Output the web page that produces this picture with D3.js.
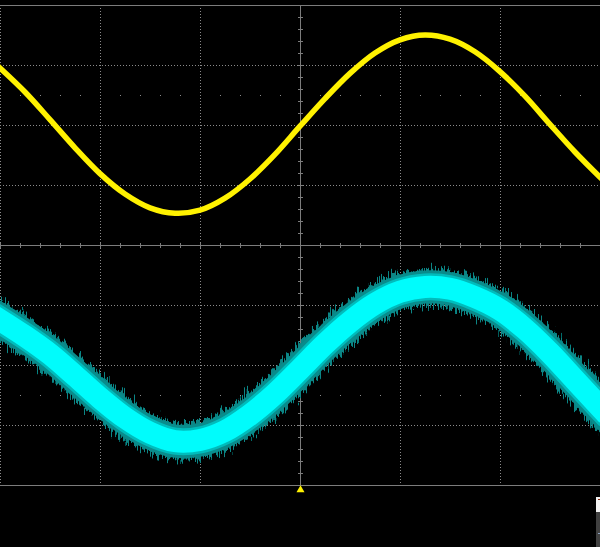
<!DOCTYPE html>
<html>
<head>
<meta charset="utf-8">
<script src="https://cdn.jsdelivr.net/npm/d3@7"></script>
<style>
  body { margin: 0; background: #000; overflow: hidden; }
  svg { display: block; }
</style>
</head>
<body>
<div id="scope"></div>
<script>
// screen size
let width = 600,
  height = 547;

// time, in horizontal divisions from the trigger point (screen centre)
let timeDiv = [-3, -2.75, -2.5, -2.25, -2, -1.75, -1.5, -1.25, -1, -0.75, -0.5, -0.25, 0,
  0.25, 0.5, 0.75, 1, 1.25, 1.5, 1.75, 2, 2.25, 2.5, 2.75, 3];

// channel 1 (yellow), vertical divisions
let ch1 = [2.95, 2.55, 2.09, 1.62, 1.19, 0.85, 0.62, 0.53, 0.58, 0.78, 1.10, 1.51, 1.98,
  2.44, 2.86, 3.20, 3.42, 3.50, 3.43, 3.22, 2.89, 2.48, 2.01, 1.55, 1.13];

// channel 2 (cyan, noisy), vertical divisions
let ch2 = [-1.25, -1.52, -1.82, -2.18, -2.55, -2.88, -3.13, -3.27, -3.25, -3.10, -2.83, -2.48, -2.07,
  -1.65, -1.28, -0.98, -0.78, -0.70, -0.73, -0.87, -1.08, -1.40, -1.80, -2.25, -2.70];

// graticule: 6 horizontal divisions visible, 8 vertical
let xDivs = [-3, -2, -1, 0, 1, 2, 3];
let yDivs = [-4, -3, -2, -1, 0, 1, 2, 3, 4];

let svg = d3
  .select("#scope")
  .append("svg")
  .attr("width", width)
  .attr("height", height);

let x = d3.scaleLinear().domain([-3, 3]).range([0, 600]);
let y = d3.scaleLinear().domain([-4, 4]).range([485, 5]);

let defs = svg.append("defs");

// clip traces to the graticule
defs.append("clipPath")
  .attr("id", "screen")
  .append("rect")
  .attr("x", 0)
  .attr("y", y(4))
  .attr("width", width)
  .attr("height", y(-4) - y(4));

// noise texture for the cyan trace edge
let f = defs
  .append("filter")
  .attr("id", "jitter")
  .attr("filterUnits", "userSpaceOnUse")
  .attr("x", 0)
  .attr("y", 0)
  .attr("width", width)
  .attr("height", height);
f.append("feTurbulence")
  .attr("type", "fractalNoise")
  .attr("baseFrequency", "0.7 0.06")
  .attr("numOctaves", 2)
  .attr("seed", 4)
  .attr("result", "n");
f.append("feColorMatrix")
  .attr("in", "n")
  .attr("type", "matrix")
  .attr("values", "0 0 0 0 0.5  0 1 0 0 0  0 0 0 0 0  0 0 0 0 1")
  .attr("result", "m");
f.append("feDisplacementMap")
  .attr("in", "SourceGraphic")
  .attr("in2", "m")
  .attr("scale", 26)
  .attr("xChannelSelector", "R")
  .attr("yChannelSelector", "G");

let grid = svg.append("g").attr("shape-rendering", "crispEdges");

// dotted vertical grid lines
grid
  .selectAll(".vgrid")
  .data(xDivs.filter(d => d !== 0))
  .enter()
  .append("line")
  .attr("x1", d => x(d) + 0.5)
  .attr("x2", d => x(d) + 0.5)
  .attr("y1", y(4))
  .attr("y2", y(-4))
  .attr("stroke", "#8a8a8a")
  .attr("stroke-dasharray", "1,2");

// dotted horizontal grid lines
grid
  .selectAll(".hgrid")
  .data(yDivs.filter(d => d !== 0 && Math.abs(d) !== 4))
  .enter()
  .append("line")
  .attr("x1", 0)
  .attr("x2", width)
  .attr("y1", d => y(d) + 0.5)
  .attr("y2", d => y(d) + 0.5)
  .attr("stroke", "#8a8a8a")
  .attr("stroke-dasharray", "1,2");

// solid top and bottom borders
grid
  .selectAll(".border")
  .data([4, -4])
  .enter()
  .append("line")
  .attr("x1", 0)
  .attr("x2", width)
  .attr("y1", d => y(d) + 0.5)
  .attr("y2", d => y(d) + 0.5)
  .attr("stroke", "#7c7c7c");

// rows of minor dots at +/- 2.5 divisions
let minorX = x.ticks(30).filter(d => Math.abs(d - Math.round(d)) > 0.01);
[2.5, -2.5].forEach(function (row) {
  grid
    .selectAll(null)
    .data(minorX)
    .enter()
    .append("rect")
    .attr("x", d => x(d))
    .attr("y", y(row))
    .attr("width", 1)
    .attr("height", 1)
    .attr("fill", "#8a8a8a");
});

// centre crosshair with minor ticks
grid.append("line")
  .attr("x1", 0).attr("x2", width)
  .attr("y1", y(0) + 0.5).attr("y2", y(0) + 0.5)
  .attr("stroke", "#7c7c7c");
grid.append("line")
  .attr("x1", x(0) + 0.5).attr("x2", x(0) + 0.5)
  .attr("y1", y(4)).attr("y2", y(-4))
  .attr("stroke", "#7c7c7c");

grid
  .selectAll(".xtick")
  .data(x.ticks(30))
  .enter()
  .append("line")
  .attr("x1", d => x(d) + 0.5)
  .attr("x2", d => x(d) + 0.5)
  .attr("y1", y(0) - 2)
  .attr("y2", y(0) + 3)
  .attr("stroke", "#7c7c7c");

grid
  .selectAll(".ytick")
  .data(y.ticks(40))
  .enter()
  .append("line")
  .attr("x1", x(0) - 2)
  .attr("x2", x(0) + 3)
  .attr("y1", d => y(d) + 0.5)
  .attr("y2", d => y(d) + 0.5)
  .attr("stroke", "#7c7c7c");

// traces
let line = d3
  .line()
  .x((d, i) => x(timeDiv[i]))
  .y(d => y(d))
  .curve(d3.curveCatmullRom.alpha(0.5));

let traces = svg
  .append("g")
  .attr("clip-path", "url(#screen)")
  .attr("fill", "none")
  .attr("stroke-linecap", "square");

// channel 2: noisy outer fringe, body, then bright core
traces.append("path")
  .attr("d", line(ch2))
  .attr("stroke", "#078585")
  .attr("stroke-width", 36)
  .attr("filter", "url(#jitter)");
traces.append("path")
  .attr("d", line(ch2))
  .attr("stroke", "#098c8c")
  .attr("stroke-width", 33);
traces.append("path")
  .attr("d", line(ch2))
  .attr("stroke", "#00bcbc")
  .attr("stroke-width", 27);
traces.append("path")
  .attr("d", line(ch2))
  .attr("stroke", "#00fcfc")
  .attr("stroke-width", 22);

// channel 1
traces.append("path")
  .attr("d", line(ch1))
  .attr("stroke", "#fff200")
  .attr("stroke-width", 5.5);

// trigger position marker
svg.append("path")
  .attr("d", d3.symbol().type(d3.symbolTriangle).size(28))
  .attr("transform", "translate(" + (x(0) + 0.5) + "," + (y(-4) + 5) + ")")
  .attr("fill", "#fff200");

// edge of the side panel, bottom right
svg.append("rect")
  .attr("x", 596).attr("y", 512)
  .attr("width", 4).attr("height", 35)
  .attr("fill", "#404040");
svg.append("rect")
  .attr("x", 596).attr("y", 497)
  .attr("width", 4).attr("height", 15)
  .attr("fill", "#f2f2f2");
svg.append("rect")
  .attr("x", 598).attr("y", 499)
  .attr("width", 2).attr("height", 1)
  .attr("fill", "#8a2a10");
svg.append("rect")
  .attr("x", 598).attr("y", 533)
  .attr("width", 2).attr("height", 1)
  .attr("fill", "#8aa0c0");
</script>
</body>
</html>
